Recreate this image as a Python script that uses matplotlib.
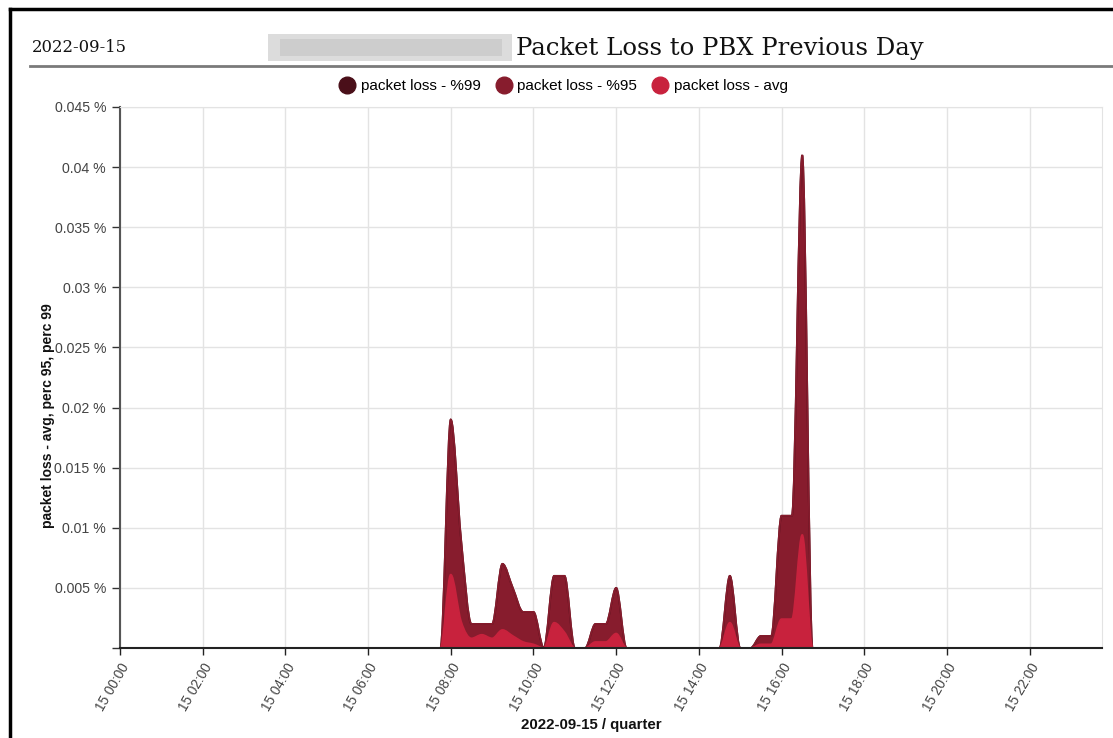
import numpy as np
import matplotlib
matplotlib.use('Agg')
import matplotlib.pyplot as plt
from matplotlib.path import Path
from matplotlib.patches import PathPatch, Rectangle
from matplotlib.lines import Line2D

plt.rcParams['font.family'] = ['Liberation Sans', 'DejaVu Sans']

# quarter-hour samples of 2022-09-15, 00:00 .. 23:45 (hours)
hours = np.arange(96) / 4.0

# packet loss in percent, one row per 4 hours (16 quarters)
p95 = [
    0, 0, 0, 0, 0, 0, 0, 0, 0, 0, 0, 0, 0, 0, 0, 0,
    0, 0, 0, 0, 0, 0, 0, 0, 0, 0, 0, 0, 0, 0, 0, 0,
    0.019, 0.009, 0.002, 0.002, 0.002, 0.007, 0.005, 0.003, 0.003, 0, 0.006, 0.006, 0, 0, 0.002, 0.002,
    0.005, 0, 0, 0, 0, 0, 0, 0, 0, 0, 0, 0.006, 0, 0, 0.001, 0.001,
    0.011, 0.011, 0.041, 0, 0, 0, 0, 0, 0, 0, 0, 0, 0, 0, 0, 0,
    0, 0, 0, 0, 0, 0, 0, 0, 0, 0, 0, 0, 0, 0, 0, 0,
]
p99 = list(p95)  # identical to perc 95 on this day, hidden behind it
avg = [
    0, 0, 0, 0, 0, 0, 0, 0, 0, 0, 0, 0, 0, 0, 0, 0,
    0, 0, 0, 0, 0, 0, 0, 0, 0, 0, 0, 0, 0, 0, 0, 0,
    0.0061, 0.0022, 0.0008, 0.0011, 0.0008, 0.0015, 0.001, 0.0005, 0.0003, 0, 0.0021, 0.0013, 0, 0, 0.0005, 0.0005,
    0.0012, 0, 0, 0, 0, 0, 0, 0, 0, 0, 0, 0.0021, 0, 0, 0.0003, 0.0003,
    0.0024, 0.0024, 0.0094, 0, 0, 0, 0, 0, 0, 0, 0, 0, 0, 0, 0, 0,
    0, 0, 0, 0, 0, 0, 0, 0, 0, 0, 0, 0, 0, 0, 0, 0,
]

series_names = ['packet loss - %99', 'packet loss - %95', 'packet loss - avg']
series_colors = ['#4a0f19', '#871c2d', '#c8223d']
xtick_hours = list(range(0, 24, 2))
xtick_labels = ['15 %02d:00' % h for h in xtick_hours]
ytick_vals = [0, 0.005, 0.01, 0.015, 0.02, 0.025, 0.03, 0.035, 0.04, 0.045]


def monotone_tangents(x, y):
    # same slopes as d3.curveMonotoneX
    x = np.asarray(x, float)
    y = np.asarray(y, float)
    n = len(x)
    t = np.zeros(n)
    for i in range(1, n - 1):
        h0 = x[i] - x[i - 1]
        h1 = x[i + 1] - x[i]
        s0 = (y[i] - y[i - 1]) / h0
        s1 = (y[i + 1] - y[i]) / h1
        p = (s0 * h1 + s1 * h0) / (h0 + h1)
        t[i] = (np.sign(s0) + np.sign(s1)) * min(abs(s0), abs(s1), 0.5 * abs(p))
    t[0] = (3 * (y[1] - y[0]) / (x[1] - x[0]) - t[1]) / 2
    t[-1] = (3 * (y[-1] - y[-2]) / (x[-1] - x[-2]) - t[-2]) / 2
    return t


def smooth_path(x, y, closed):
    x = np.asarray(x, float)
    y = np.asarray(y, float)
    t = monotone_tangents(x, y)
    verts = [(x[0], 0.0), (x[0], y[0])] if closed else [(x[0], y[0])]
    codes = [Path.MOVETO, Path.LINETO] if closed else [Path.MOVETO]
    for i in range(len(x) - 1):
        dx = (x[i + 1] - x[i]) / 3
        verts += [(x[i] + dx, y[i] + dx * t[i]),
                  (x[i + 1] - dx, y[i + 1] - dx * t[i + 1]),
                  (x[i + 1], y[i + 1])]
        codes += [Path.CURVE4] * 3
    if closed:
        verts += [(x[-1], 0.0), (x[0], 0.0)]
        codes += [Path.LINETO, Path.CLOSEPOLY]
    return Path(verts, codes)


fig = plt.figure(figsize=(11.13, 7.38), dpi=100)

# page frame
fig.add_artist(Line2D([10 / 1113, 10 / 1113], [0, 1 - 9 / 738], color='black', lw=2.5))
fig.add_artist(Line2D([10 / 1113, 1], [1 - 9 / 738, 1 - 9 / 738], color='black', lw=2.5))
# header
fig.text(32 / 1113, 1 - 47 / 738, '2022-09-15', family='DejaVu Serif', fontsize=11.8,
         va='center', ha='left', color='#111111')
# redacted name (blurred in the source)
fig.add_artist(Rectangle((268 / 1113, 1 - 61 / 738), 244 / 1113, 27 / 738,
                         facecolor='#dcdcdc', edgecolor='none'))
fig.add_artist(Rectangle((280 / 1113, 1 - 56 / 738), 222 / 1113, 17 / 738,
                         facecolor='#c4c4c4', edgecolor='none', alpha=0.6))
fig.text(516 / 1113, 1 - 48 / 738, 'Packet Loss to PBX Previous Day', family='DejaVu Serif',
         fontsize=17.5, va='center', ha='left', color='#111111')
fig.add_artist(Line2D([30 / 1113, 1], [1 - 65.5 / 738, 1 - 65.5 / 738], color='#7a7a7a', lw=2))

ax = fig.add_axes([120 / 1113, (738 - 648) / 738, (1102 - 120) / 1113, (648 - 107) / 738])

for vals, col in zip([p99, p95, avg], series_colors):
    ax.add_patch(PathPatch(smooth_path(hours, vals, True), facecolor=col, edgecolor='none'))
for vals, col in zip([p99, p95, avg], series_colors):
    ax.add_patch(PathPatch(smooth_path(hours, vals, False), facecolor='none',
                           edgecolor=col, lw=1.3))

ax.set_xlim(hours[0], hours[-1])
ax.set_ylim(0, 0.045)
ax.set_xticks(xtick_hours)
ax.set_xticklabels(xtick_labels, rotation=60, ha='right', va='top',
                   rotation_mode='anchor', fontsize=9.8, color='#444444')
ax.set_yticks(ytick_vals)
ax.set_yticklabels([''] + ['%g %%' % v for v in ytick_vals[1:]], fontsize=10.2, color='#444444')
ax.grid(True, color='#e3e3e3', lw=1)
ax.set_axisbelow(True)
ax.tick_params(axis='y', length=6, width=1, color='#333333', pad=4)
ax.tick_params(axis='x', length=5, width=1, color='#222222', pad=4)
ax.spines['left'].set_color('#555555')
ax.spines['left'].set_linewidth(1.5)
ax.spines['bottom'].set_color('#222222')
ax.spines['bottom'].set_linewidth(1.5)
ax.spines['top'].set_color('#e3e3e3')
ax.spines['right'].set_color('#e3e3e3')

ax.set_ylabel('packet loss - avg, perc 95, perc 99', fontsize=10, fontweight='bold', color='#111111')
ax.yaxis.set_label_coords(-0.066, 0.43)
ax.set_xlabel('2022-09-15 / quarter', fontsize=10.8, fontweight='bold', color='#111111')
ax.xaxis.set_label_coords(0.48, -0.13)

handles = [Line2D([], [], marker='o', ls='none', markersize=12, color=c) for c in series_colors]
fig.legend(handles, series_names, loc='center', bbox_to_anchor=(563 / 1113, 1 - 86 / 738),
           ncol=3, frameon=False, fontsize=11, handletextpad=0.3, columnspacing=0.9,
           handlelength=1.2)

fig.savefig('out.png', dpi=100)
